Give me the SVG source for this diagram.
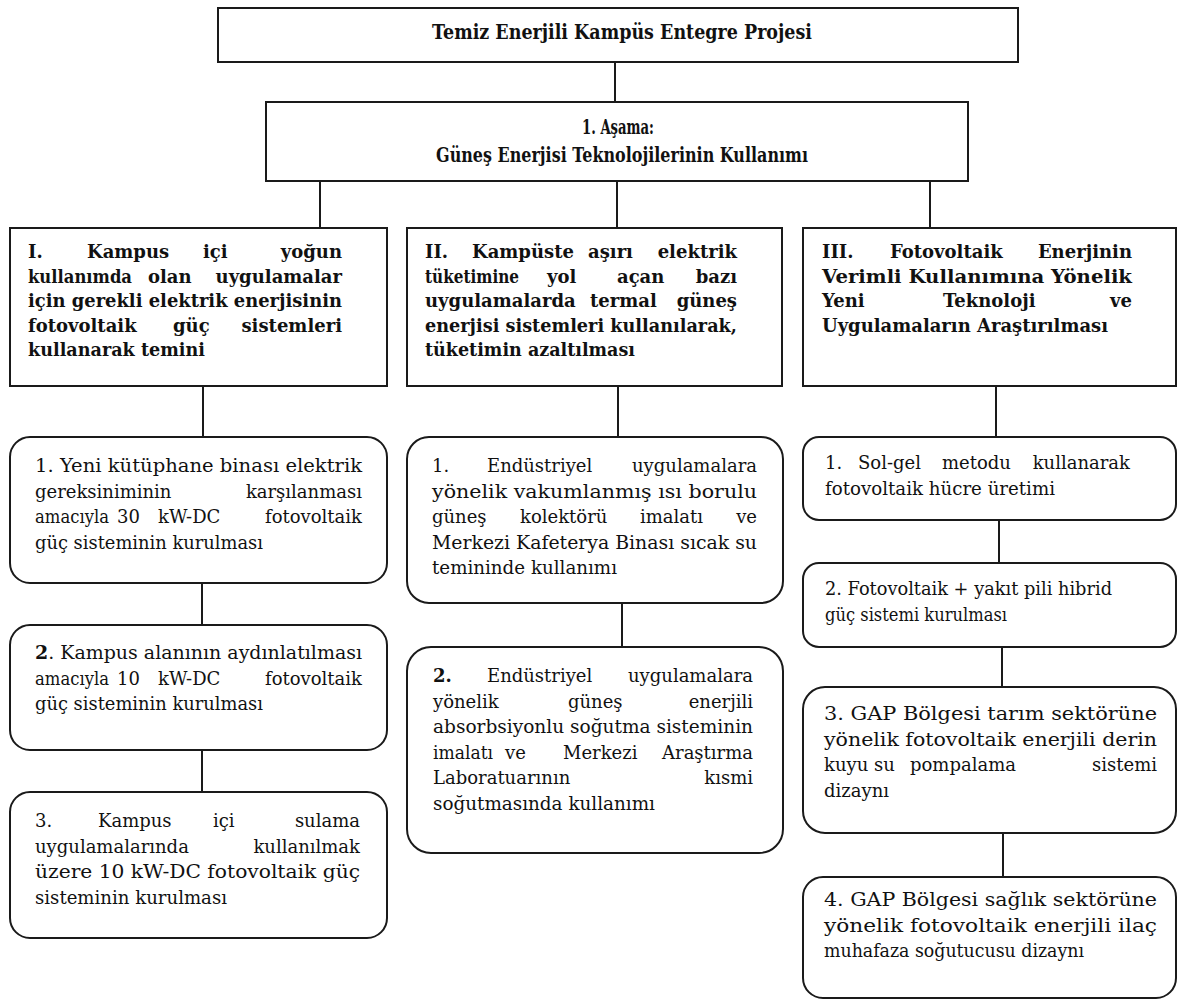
<svg xmlns="http://www.w3.org/2000/svg" width="1179" height="1001" viewBox="0 0 1179 1001">
<style>
.b{fill:#fff;stroke:#1a1a1a;stroke-width:2}
.l{stroke:#1a1a1a;stroke-width:2;fill:none}
text{font-family:"DejaVu Serif","Liberation Serif",serif;font-size:18px;fill:#111}
.h{font-weight:bold}
.e{text-anchor:end}
.c{text-anchor:middle}
.t{font-size:21px}
</style>
<rect width="1179" height="1001" fill="#fff"/>
<g id="connectors">
<path class="l" d="M615 62V102M320 181V228M617 181V228M930 181V228M203 386V437M618 386V437M996 386V437M202 583V625M202 750V792M622 603V647M999 520V563M1002 647V687M1003 833V877"/>
</g>
<g id="title">
<rect class="b" x="218" y="8" width="800" height="54"/>
<text class="h c t" x="622" y="39" textLength="380" lengthAdjust="spacingAndGlyphs">Temiz Enerjili Kampüs Entegre Projesi</text>
</g>
<g id="phase1">
<rect class="b" x="266" y="102" width="702" height="79"/>
<text class="h c t" x="618" y="134" textLength="72" lengthAdjust="spacingAndGlyphs">1. Aşama:</text>
<text class="h c t" x="622" y="162" textLength="372" lengthAdjust="spacingAndGlyphs">Güneş Enerjisi Teknolojilerinin Kullanımı</text>
</g>
<g id="header1">
<rect class="b" x="10" y="228" width="377" height="158"/>
<text class="h" y="258"><tspan x="28">I.</tspan><tspan x="87">Kampus</tspan><tspan x="203">içi</tspan></text>
<text class="h e" x="342" y="258">yoğun</text>
<text class="h" x="28" y="282.5" textLength="104" lengthAdjust="spacingAndGlyphs">kullanımda</text>
<text class="h" x="148" y="282.5">olan</text>
<text class="h e" x="342" y="282.5">uygulamalar</text>
<text class="h" x="28" y="307" textLength="314" lengthAdjust="spacingAndGlyphs">için gerekli elektrik enerjisinin</text>
<text class="h" y="331.5"><tspan x="28">fotovoltaik</tspan><tspan x="173">güç</tspan></text>
<text class="h e" x="342" y="331.5">sistemleri</text>
<text class="h" x="28" y="356" textLength="177" lengthAdjust="spacingAndGlyphs">kullanarak temini</text>
</g>
<g id="header2">
<rect class="b" x="407" y="228" width="375" height="158"/>
<text class="h" y="258"><tspan x="425">II.</tspan><tspan x="472">Kampüste</tspan><tspan x="588">aşırı</tspan></text>
<text class="h e" x="737" y="258">elektrik</text>
<text class="h" x="425" y="282.5" textLength="94" lengthAdjust="spacingAndGlyphs">tüketimine</text>
<text class="h" y="282.5"><tspan x="547">yol</tspan><tspan x="617">açan</tspan></text>
<text class="h e" x="737" y="282.5">bazı</text>
<text class="h" y="307"><tspan x="425">uygulamalarda</tspan><tspan x="590">termal</tspan></text>
<text class="h e" x="737" y="307">güneş</text>
<text class="h" x="425" y="331.5" textLength="312" lengthAdjust="spacingAndGlyphs">enerjisi sistemleri kullanılarak,</text>
<text class="h" x="425" y="356" textLength="210" lengthAdjust="spacingAndGlyphs">tüketimin azaltılması</text>
</g>
<g id="header3">
<rect class="b" x="803" y="228" width="373" height="158"/>
<text class="h" y="258"><tspan x="822">III.</tspan><tspan x="890">Fotovoltaik</tspan></text>
<text class="h e" x="1132" y="258">Enerjinin</text>
<text class="h" x="822" y="282.5" textLength="310" lengthAdjust="spacingAndGlyphs">Verimli Kullanımına Yönelik</text>
<text class="h" y="307"><tspan x="822">Yeni</tspan><tspan x="943">Teknoloji</tspan></text>
<text class="h e" x="1132" y="307">ve</text>
<text class="h" x="822" y="331.5" textLength="286" lengthAdjust="spacingAndGlyphs">Uygulamaların Araştırılması</text>
</g>
<g id="c1n1">
<rect class="b" x="10" y="437" width="377" height="146" rx="20"/>
<text x="35" y="472" textLength="327" lengthAdjust="spacingAndGlyphs">1. Yeni kütüphane binası elektrik</text>
<text x="35" y="497.5">gereksiniminin</text>
<text class="e" x="362" y="497.5">karşılanması</text>
<text x="35" y="523" textLength="74" lengthAdjust="spacingAndGlyphs">amacıyla</text>
<text y="523"><tspan x="117">30</tspan><tspan x="158">kW-DC</tspan></text>
<text class="e" x="362" y="523">fotovoltaik</text>
<text x="35" y="548.5" textLength="228" lengthAdjust="spacingAndGlyphs">güç sisteminin kurulması</text>
</g>
<g id="c1n2">
<rect class="b" x="10" y="625" width="377" height="125" rx="20"/>
<text x="35" y="659" textLength="327" lengthAdjust="spacingAndGlyphs"><tspan class="h">2</tspan>. Kampus alanının aydınlatılması</text>
<text x="35" y="684.5" textLength="74" lengthAdjust="spacingAndGlyphs">amacıyla</text>
<text y="684.5"><tspan x="117">10</tspan><tspan x="158">kW-DC</tspan></text>
<text class="e" x="362" y="684.5">fotovoltaik</text>
<text x="35" y="710" textLength="228" lengthAdjust="spacingAndGlyphs">güç sisteminin kurulması</text>
</g>
<g id="c1n3">
<rect class="b" x="10" y="792" width="377" height="146" rx="20"/>
<text y="827"><tspan x="35">3.</tspan><tspan x="98">Kampus</tspan><tspan x="213">içi</tspan></text>
<text class="e" x="360" y="827">sulama</text>
<text x="35" y="852.5">uygulamalarında</text>
<text class="e" x="360" y="852.5">kullanılmak</text>
<text x="35" y="878" textLength="325" lengthAdjust="spacingAndGlyphs">üzere 10 kW-DC fotovoltaik güç</text>
<text x="35" y="903.5" textLength="192" lengthAdjust="spacingAndGlyphs">sisteminin kurulması</text>
</g>
<g id="c2n1">
<rect class="b" x="407" y="437" width="376" height="166" rx="22"/>
<text y="472"><tspan x="432">1.</tspan><tspan x="487">Endüstriyel</tspan></text>
<text class="e" x="757" y="472">uygulamalara</text>
<text x="432" y="497.5" textLength="325" lengthAdjust="spacingAndGlyphs">yönelik vakumlanmış ısı borulu</text>
<text y="523"><tspan x="432">güneş</tspan><tspan x="520">kolektörü</tspan><tspan x="640">imalatı</tspan></text>
<text class="e" x="757" y="523">ve</text>
<text x="432" y="548.5" textLength="325" lengthAdjust="spacingAndGlyphs">Merkezi Kafeterya Binası sıcak su</text>
<text x="432" y="574" textLength="185" lengthAdjust="spacingAndGlyphs">temininde kullanımı</text>
</g>
<g id="c2n2">
<rect class="b" x="407" y="647" width="376" height="206" rx="24"/>
<text y="682"><tspan x="433" class="h">2.</tspan><tspan x="487">Endüstriyel</tspan></text>
<text class="e" x="753" y="682">uygulamalara</text>
<text y="707.5"><tspan x="433">yönelik</tspan><tspan x="568">güneş</tspan></text>
<text class="e" x="753" y="707.5">enerjili</text>
<text x="433" y="733" textLength="320" lengthAdjust="spacingAndGlyphs">absorbsiyonlu soğutma sisteminin</text>
<text x="433" y="758.5" textLength="60" lengthAdjust="spacingAndGlyphs">imalatı</text>
<text y="758.5"><tspan x="505">ve</tspan><tspan x="563">Merkezi</tspan></text>
<text class="e" x="753" y="758.5">Araştırma</text>
<text x="433" y="784">Laboratuarının</text>
<text class="e" x="753" y="784">kısmi</text>
<text x="433" y="809.5" textLength="222" lengthAdjust="spacingAndGlyphs">soğutmasında kullanımı</text>
</g>
<g id="c3n1">
<rect class="b" x="803" y="437" width="373" height="83" rx="16"/>
<text y="469"><tspan x="825">1.</tspan><tspan x="858">Sol-gel</tspan><tspan x="942">metodu</tspan></text>
<text class="e" x="1130" y="469">kullanarak</text>
<text x="825" y="494.5" textLength="230" lengthAdjust="spacingAndGlyphs">fotovoltaik hücre üretimi</text>
</g>
<g id="c3n2">
<rect class="b" x="803" y="563" width="373" height="84" rx="16"/>
<text x="825" y="595" textLength="287" lengthAdjust="spacingAndGlyphs">2. Fotovoltaik + yakıt pili hibrid</text>
<text x="825" y="620.5" textLength="182" lengthAdjust="spacingAndGlyphs">güç sistemi kurulması</text>
</g>
<g id="c3n3">
<rect class="b" x="803" y="687" width="373" height="146" rx="22"/>
<text x="824" y="720" textLength="333" lengthAdjust="spacingAndGlyphs">3. GAP Bölgesi tarım sektörüne</text>
<text x="824" y="745.5" textLength="333" lengthAdjust="spacingAndGlyphs">yönelik fotovoltaik enerjili derin</text>
<text y="771"><tspan x="824">kuyu</tspan><tspan x="874">su</tspan><tspan x="910">pompalama</tspan></text>
<text class="e" x="1157" y="771">sistemi</text>
<text x="824" y="796.5">dizaynı</text>
</g>
<g id="c3n4">
<rect class="b" x="803" y="877" width="373" height="121" rx="20"/>
<text x="824" y="906" textLength="333" lengthAdjust="spacingAndGlyphs">4. GAP Bölgesi sağlık sektörüne</text>
<text x="824" y="931.5" textLength="333" lengthAdjust="spacingAndGlyphs">yönelik fotovoltaik enerjili ilaç</text>
<text x="824" y="957" textLength="260" lengthAdjust="spacingAndGlyphs">muhafaza soğutucusu dizaynı</text>
</g>
</svg>
